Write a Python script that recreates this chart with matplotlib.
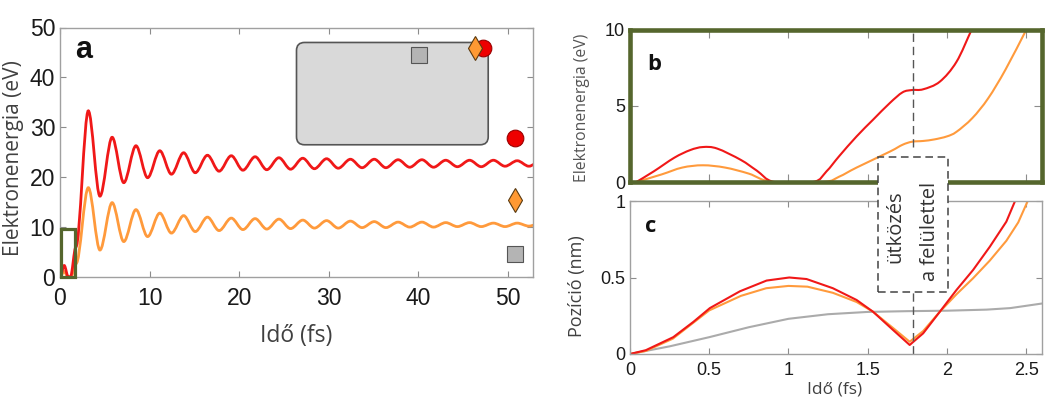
import matplotlib
matplotlib.use("Agg")
import matplotlib.pyplot as plt
from matplotlib.path import Path
from matplotlib.patches import PathPatch, FancyBboxPatch, Rectangle
from matplotlib.ticker import FuncFormatter

plt.rcParams['font.family'] = ['Liberation Sans', 'DejaVu Sans']

# ---------------- Panel a data ----------------
a_red_early_t = [0.0, 0.47, 0.92, 1.16, 1.78]
a_red_early_e = [0.0, 2.3, 0.0, 0.0, 6.05]
a_org_early_t = [0.0, 0.46, 0.90, 1.22, 1.80]
a_org_early_e = [0.0, 1.1, 0.0, 0.0, 2.7]

peak_t = [3.16, 5.82, 8.48, 11.14, 13.80, 16.46, 19.12, 21.78, 24.44, 27.10,
          29.76, 32.42, 35.08, 37.74, 40.40, 43.06, 45.72, 48.38, 51.04, 53.70]
trough_t = [4.46, 7.12, 9.78, 12.44, 15.10, 17.76, 20.42, 23.08, 25.74, 28.40,
            31.06, 33.72, 36.38, 39.04, 41.70, 44.36, 47.02, 49.68, 52.34]
red_peak = [33.3, 28.0, 26.3, 25.3, 24.9, 24.4, 24.3, 24.1, 23.9, 23.8,
            23.7, 23.6, 23.6, 23.5, 23.5, 23.4, 23.4, 23.4, 23.3, 23.3]
red_trough = [16.2, 18.9, 19.9, 20.6, 20.9, 21.2, 21.4, 21.5, 21.6, 21.7,
              21.8, 21.9, 21.9, 22.0, 22.0, 22.1, 22.1, 22.2, 22.2]
org_peak = [17.9, 14.9, 13.5, 12.8, 12.3, 12.0, 11.8, 11.7, 11.6, 11.4,
            11.3, 11.2, 11.1, 11.0, 11.0, 10.9, 10.9, 10.8, 10.8, 10.8]
org_trough = [5.4, 7.1, 8.1, 8.8, 9.1, 9.3, 9.5, 9.6, 9.7, 9.8,
              9.8, 9.9, 9.9, 10.0, 10.0, 10.1, 10.1, 10.1, 10.2]

red_circle_t = [47.2, 50.8]
red_circle_e = [45.9, 27.9]
org_diamond_t = [46.3, 50.8]
org_diamond_e = [45.9, 15.5]
gray_square_t = [40.1, 50.8]
gray_square_e = [44.4, 4.7]

# ---------------- Panel b data ----------------
b_red_t = [0.04, 0.15, 0.28, 0.38, 0.46, 0.55, 0.70, 0.80, 0.91, 1.156, 1.24,
           1.32, 1.43, 1.534, 1.64, 1.72, 1.78, 1.85, 1.955, 2.06, 2.155, 2.22]
b_red_e = [0.0, 0.7, 1.6, 2.1, 2.3, 2.2, 1.45, 0.75, 0.0, 0.0, 0.7,
           1.7, 3.0, 4.1, 5.2, 5.9, 6.05, 6.1, 6.6, 7.9, 10.0, 11.4]
b_org_t = [0.04, 0.2, 0.33, 0.46, 0.6, 0.75, 0.90, 1.22, 1.32, 1.43, 1.64,
           1.72, 1.78, 1.85, 1.92, 2.0, 2.06, 2.16, 2.26, 2.37, 2.5, 2.56]
b_org_e = [0.0, 0.5, 0.95, 1.1, 0.95, 0.55, 0.0, 0.0, 0.35, 0.95, 2.0,
           2.45, 2.65, 2.7, 2.8, 3.0, 3.3, 4.2, 5.5, 7.4, 10.0, 11.2]

# ---------------- Panel c data ----------------
c_red_t = [0.0, 0.1, 0.273, 0.4, 0.504, 0.694, 0.862, 1.005, 1.114, 1.28, 1.43,
           1.534, 1.66, 1.765, 1.85, 1.955, 2.06, 2.165, 2.27, 2.375, 2.43, 2.47]
c_red_v = [0.0, 0.025, 0.11, 0.21, 0.30, 0.41, 0.48, 0.50, 0.49, 0.43, 0.353,
           0.276, 0.157, 0.059, 0.135, 0.276, 0.418, 0.549, 0.70, 0.865, 1.0, 1.08]
c_org_t = [0.0, 0.1, 0.27, 0.5, 0.7, 0.86, 1.0, 1.12, 1.28, 1.43, 1.534,
           1.66, 1.765, 1.85, 1.955, 2.06, 2.165, 2.27, 2.375, 2.45, 2.51, 2.56]
c_org_v = [0.0, 0.02, 0.10, 0.285, 0.38, 0.43, 0.445, 0.44, 0.40, 0.34, 0.276,
           0.17, 0.08, 0.15, 0.276, 0.39, 0.495, 0.61, 0.74, 0.86, 1.0, 1.1]
c_gray_t = [0.0, 0.25, 0.5, 0.75, 1.0, 1.25, 1.5, 1.75, 2.0, 2.25, 2.4, 2.6]
c_gray_v = [0.0, 0.05, 0.11, 0.175, 0.23, 0.26, 0.275, 0.28, 0.283, 0.29, 0.30, 0.33]

collision_t = 1.786
x_ticks_bc = [0, 0.5, 1, 1.5, 2, 2.5]

RED = '#f01818'
ORG = '#ff9a3c'
GRAY = '#ababab'
GREEN = '#55662d'
SPINE = '#a0a0a0'

W, H = 1050, 400
fig = plt.figure(figsize=(10.5, 4), dpi=100)


def rect(l, t, r, b):
    return [l / W, 1 - b / H, (r - l) / W, (b - t) / H]


def flat_path(ts, ys):
    """Smooth curve through extrema with horizontal tangents."""
    verts = [(ts[0], ys[0])]
    codes = [Path.MOVETO]
    for i in range(1, len(ts)):
        dt = ts[i] - ts[i - 1]
        verts += [(ts[i - 1] + dt / 3, ys[i - 1]), (ts[i] - dt / 3, ys[i]), (ts[i], ys[i])]
        codes += [Path.CURVE4] * 3
    return Path(verts, codes)


def cr_path(ts, ys):
    """Catmull-Rom style smooth curve through the read points."""
    n = len(ts)
    P = list(zip(ts, ys))
    verts = [P[0]]
    codes = [Path.MOVETO]
    for i in range(n - 1):
        p0 = P[i - 1] if i > 0 else P[i]
        p1, p2 = P[i], P[i + 1]
        p3 = P[i + 2] if i + 2 < n else P[i + 1]
        c1 = (p1[0] + (p2[0] - p0[0]) / 6, p1[1] + (p2[1] - p0[1]) / 6)
        c2 = (p2[0] - (p3[0] - p1[0]) / 6, p2[1] - (p3[1] - p1[1]) / 6)
        verts += [c1, c2, p2]
        codes += [Path.CURVE4] * 3
    return Path(verts, codes)


def merge(early_t, early_e, pk, tr):
    ts, ys = list(early_t), list(early_e)
    for i in range(len(peak_t)):
        ts.append(peak_t[i]); ys.append(pk[i])
        if i < len(trough_t):
            ts.append(trough_t[i]); ys.append(tr[i])
    return ts, ys


axa = fig.add_axes(rect(60, 27.5, 533, 277))
axb = fig.add_axes(rect(630, 30, 1042, 182))
axc = fig.add_axes(rect(630, 201, 1042, 354))

# ---------- panel a ----------
axa.set_xlim(0, 52.8)
axa.set_ylim(0, 50)
axa.set_xticks([0, 10, 20, 30, 40, 50])
axa.set_yticks([0, 10, 20, 30, 40, 50])
axa.tick_params(direction='in', top=True, right=True, length=4, width=0.8,
                color='#8c8c8c', labelsize=16.5, labelcolor='#1a1a1a')
axa.tick_params(axis='x', pad=7)
axa.tick_params(axis='y', pad=3.5)
for s in axa.spines.values():
    s.set_color(SPINE)
    s.set_linewidth(1.0)

rt, ry = merge(a_red_early_t, a_red_early_e, red_peak, red_trough)
ot, oy = merge(a_org_early_t, a_org_early_e, org_peak, org_trough)
axa.add_patch(PathPatch(flat_path(ot, oy), fill=False, edgecolor=ORG, lw=2.0, zorder=2))
axa.add_patch(PathPatch(flat_path(rt, ry), fill=False, edgecolor=RED, lw=2.0, zorder=2))

axa.add_patch(FancyBboxPatch((26.4, 26.5), 21.4, 20.5,
                             boxstyle='round,pad=0,rounding_size=0.9', mutation_aspect=1.78,
                             facecolor='#d9d9d9', edgecolor='#555555', lw=1.2, zorder=3))
axa.add_patch(Rectangle((0.15, 0.1), 1.55, 9.6, fill=False, edgecolor=GREEN, lw=2.3,
                        zorder=4, clip_on=False))

axa.plot(red_circle_t, red_circle_e, 'o', ms=12, mfc='#ee0000', mec='#9a0000', mew=0.8,
         ls='none', zorder=5, clip_on=False)
axa.plot(org_diamond_t, org_diamond_e, 'd', ms=12.7, mfc='#ff9933', mec='#5a3a10', mew=0.8,
         ls='none', zorder=6, clip_on=False)
axa.plot(gray_square_t, gray_square_e, 's', ms=11, mfc='#b4b4b4', mec='#555555', mew=0.8,
         ls='none', zorder=6, clip_on=False)

axa.text(0.033, 0.877, 'a', transform=axa.transAxes, fontsize=22, fontweight='bold',
         ha='left', va='baseline', color='#111111')

fig.text(296 / W, 1 - 341.7 / H, 'Idő (fs)', fontfamily='Open Sans', fontsize=16.5,
         color='#404040', ha='center', va='baseline')
fig.text(19 / W, 1 - 158 / H, 'Elektronenergia (eV)', fontfamily='Open Sans', fontsize=15,
         color='#404040', ha='center', va='baseline', rotation=90, rotation_mode='anchor')

# ---------- panel b ----------
axb.set_xlim(0, 2.6)
axb.set_ylim(0, 10)
axb.set_xticks(x_ticks_bc)
axb.set_yticks([0, 5, 10])
axb.tick_params(direction='in', top=True, right=True, length=6, width=0.8,
                color='#8c8c8c', labelsize=13, labelcolor='#1a1a1a', pad=3.5)
axb.tick_params(axis='x', labelbottom=False)
for s in axb.spines.values():
    s.set_color(GREEN)
    s.set_linewidth(3.3)
axb.add_patch(PathPatch(cr_path(b_org_t, b_org_e), fill=False, edgecolor=ORG, lw=1.5, zorder=2))
axb.add_patch(PathPatch(cr_path(b_red_t, b_red_e), fill=False, edgecolor=RED, lw=1.5, zorder=2))
axb.plot([collision_t, collision_t], [2.3, 10], color='#555555', lw=1.0, ls=(0, (6, 3.5)))
axb.text(0.042, 0.737, 'b', transform=axb.transAxes, fontsize=15.8, fontweight='bold',
         fontfamily='Open Sans', ha='left', va='baseline', color='#111111')
fig.text(586 / W, 1 - 108 / H, 'Elektronenergia (eV)', fontfamily='Open Sans', fontsize=11.3,
         color='#555555', ha='center', va='baseline', rotation=90, rotation_mode='anchor')

# ---------- panel c ----------
axc.set_xlim(0, 2.6)
axc.set_ylim(0, 1)
axc.set_xticks(x_ticks_bc)
axc.set_yticks([0, 0.5, 1])
fmt = FuncFormatter(lambda v, p: '%g' % v)
axc.xaxis.set_major_formatter(fmt)
axc.yaxis.set_major_formatter(fmt)
axc.tick_params(direction='in', top=True, right=True, length=4, width=0.8,
                color='#8c8c8c', labelsize=13, labelcolor='#1a1a1a')
axc.tick_params(axis='x', pad=5.5)
axc.tick_params(axis='y', pad=3.5)
for s in axc.spines.values():
    s.set_color(SPINE)
    s.set_linewidth(1.0)
axc.plot(c_gray_t, c_gray_v, color=GRAY, lw=1.5)
axc.plot(c_org_t, c_org_v, color=ORG, lw=1.5)
axc.plot(c_red_t, c_red_v, color=RED, lw=1.5)
axc.plot([collision_t, collision_t], [0, 0.405], color='#555555', lw=1.0, ls=(0, (6, 3.5)))
axc.text(0.036, 0.80, 'c', transform=axc.transAxes, fontsize=15.8, fontweight='bold',
         fontfamily='Open Sans', ha='left', va='baseline', color='#111111')
fig.text(582 / W, 1 - 286 / H, 'Pozíció (nm)', fontfamily='Open Sans', fontsize=13,
         color='#404040', ha='center', va='baseline', rotation=90, rotation_mode='anchor')
fig.text(835 / W, 1 - 394 / H, 'Idő (fs)', fontfamily='Open Sans', fontsize=12.5,
         color='#404040', ha='center', va='baseline')

# ---------- collision box spanning b and c ----------
box = Rectangle((1.564, 0.405), 0.441, 0.885, transform=axc.transData,
                facecolor='white', edgecolor='#444444', lw=1.1, ls=(0, (5, 3)),
                zorder=10)
fig.add_artist(box)
fig.text(900 / W, 1 - 226.7 / H, 'ütközés', fontfamily='Open Sans', fontsize=14.5,
         color='#333333', ha='center', va='baseline', rotation=90, rotation_mode='anchor',
         zorder=11)
fig.text(935 / W, 1 - 231 / H, 'a felülettel', fontfamily='Open Sans', fontsize=14.5,
         color='#333333', ha='center', va='baseline', rotation=90, rotation_mode='anchor',
         zorder=11)

fig.savefig('out.png', dpi=100)
